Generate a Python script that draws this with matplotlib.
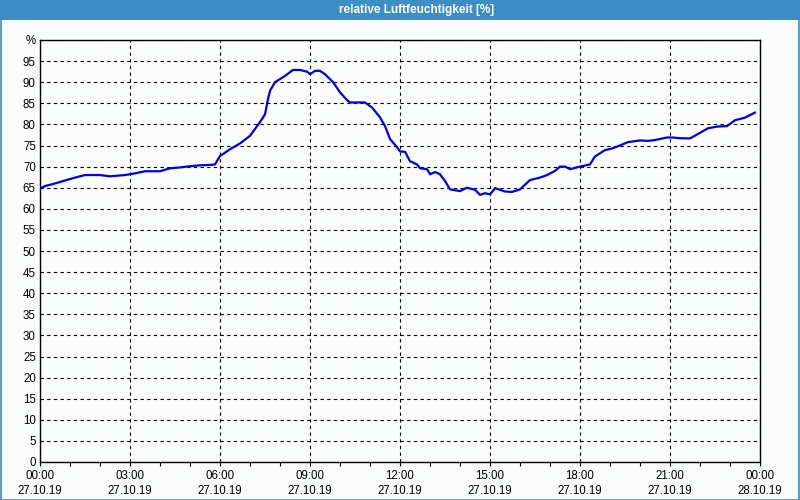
import matplotlib
matplotlib.use("Agg")
import matplotlib.pyplot as plt
from matplotlib.patches import Rectangle
from matplotlib.ticker import MultipleLocator

# Data: time in hours since 27.10.19 00:00, relative humidity in %
hours = [0.00, 0.17, 0.50, 0.83, 1.17, 1.50, 2.00, 2.33, 2.83, 3.17, 3.50, 4.00,
         4.33, 4.67, 5.00, 5.33, 5.67, 5.83, 6.00, 6.33, 6.67, 7.00, 7.33, 7.50,
         7.60, 7.67, 7.83, 8.17, 8.43, 8.67, 8.90, 9.00, 9.17, 9.33, 9.50, 9.77,
         10.00, 10.23, 10.33, 10.83, 11.07, 11.33, 11.50, 11.67, 11.90, 12.00,
         12.17, 12.33, 12.57, 12.67, 12.90, 13.00, 13.17, 13.33, 13.50, 13.67,
         14.00, 14.23, 14.50, 14.67, 14.83, 15.00, 15.17, 15.50, 15.73, 16.00,
         16.33, 16.67, 16.90, 17.17, 17.33, 17.50, 17.67, 18.00, 18.33, 18.50,
         18.83, 19.07, 19.33, 19.60, 20.00, 20.27, 20.50, 20.90, 21.07, 21.40,
         21.67, 22.00, 22.27, 22.60, 22.90, 23.17, 23.50, 23.83]
humidity = [64.8, 65.4, 66.0, 66.7, 67.4, 68.0, 68.0, 67.7, 68.0, 68.4, 68.9, 68.9,
            69.6, 69.8, 70.1, 70.3, 70.4, 70.5, 72.5, 74.1, 75.5, 77.3, 80.5, 82.4,
            86.0, 88.0, 90.0, 91.5, 92.9, 92.9, 92.5, 91.9, 92.7, 92.7, 91.9, 90.0,
            87.6, 85.8, 85.2, 85.2, 84.0, 81.7, 79.6, 76.5, 74.6, 73.6,
            73.5, 71.3, 70.5, 69.6, 69.4, 68.2, 68.7, 68.2, 66.6, 64.6,
            64.2, 65.0, 64.5, 63.3, 63.7, 63.4, 64.9, 64.1, 64.0, 64.6,
            66.8, 67.4, 68.0, 69.0, 70.0, 70.0, 69.4, 70.0, 70.5, 72.4,
            73.9, 74.3, 75.0, 75.8, 76.2, 76.1, 76.3, 76.9, 76.9, 76.7,
            76.7, 78.0, 79.1, 79.5, 79.6, 81.0, 81.6, 82.8]

x_ticks = [0, 3, 6, 9, 12, 15, 18, 21, 24]
x_labels = ["00:00\n27.10.19", "03:00\n27.10.19", "06:00\n27.10.19", "09:00\n27.10.19",
            "12:00\n27.10.19", "15:00\n27.10.19", "18:00\n27.10.19", "21:00\n27.10.19",
            "00:00\n28.10.19"]
y_ticks = list(range(0, 101, 5))
y_labels = [str(v) for v in range(0, 100, 5)] + ["%"]
title = "relative Luftfeuchtigkeit [%]"

bg = "#fbfdfc"
bar_blue = "#3c8fc6"
font = "Liberation Sans"

fig = plt.figure(figsize=(8, 5), dpi=100, facecolor=bg)

# title bar and frame
fig.patches.append(Rectangle((0, 0.96), 1, 0.04, transform=fig.transFigure,
                             facecolor=bar_blue, edgecolor="none", zorder=0))
fig.patches.append(Rectangle((0.0008, 0.001), 0.9984, 0.998, transform=fig.transFigure,
                             facecolor="none", edgecolor=bar_blue, linewidth=1.2, zorder=5))
fig.text(0.521, 0.979, title, color="white", ha="center", va="center",
         fontsize=8.5, fontfamily=font, fontweight="bold")

ax = fig.add_axes([0.05, 0.076, 0.90, 0.844])
ax.set_facecolor(bg)
ax.plot(hours, humidity, color="#0000e6", linewidth=1.6, zorder=3)

ax.set_xlim(0, 24)
ax.set_ylim(0, 100)
ax.set_xticks(x_ticks)
ax.set_xticklabels(x_labels, fontsize=8.3, fontfamily=font, linespacing=1.35)
ax.xaxis.set_minor_locator(MultipleLocator(1))
ax.set_yticks(y_ticks)
ax.set_yticklabels(y_labels, fontsize=8.3, fontfamily=font)
ax.tick_params(axis="x", which="both", direction="out", length=3, width=0.8, pad=3)
ax.tick_params(axis="y", length=0, pad=3)

ax.grid(True, which="major", color="black", linestyle=(0, (3, 3)), linewidth=0.8)
for s in ax.spines.values():
    s.set_linewidth(1.0)
    s.set_color("black")

fig.savefig("out.png", dpi=100, facecolor=bg)
